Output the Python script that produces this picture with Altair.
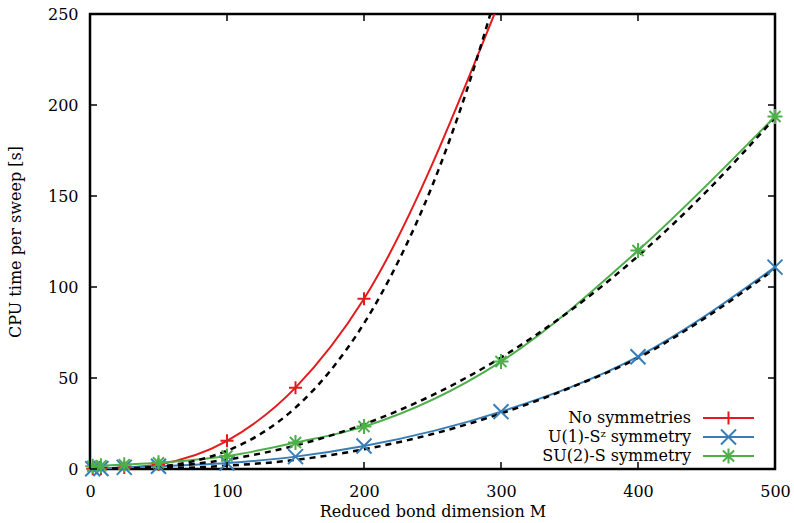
import altair as alt
import pandas as pd

# ---- series definitions -------------------------------------------------
SERIES = ["No symmetries", "U(1)-Sᶻ symmetry", "SU(2)-S symmetry"]
COLORS = ["#e41a1c", "#377eb8", "#4daf4a"]

# CPU time per sweep [s] versus reduced bond dimension M
m_none = [2, 8, 25, 50, 100, 150, 200, 300]
t_none = [0.1, 0.3, 0.8, 2.5, 15.5, 44.7, 93.5, 259.0]

m_sym = [2, 8, 25, 50, 100, 150, 200, 300, 400, 500]
t_u1 = [0.1, 0.3, 0.9, 1.5, 3.3, 6.8, 12.6, 31.5, 61.7, 110.9]
t_su2 = [1.5, 1.8, 2.4, 3.4, 7.1, 14.5, 23.3, 59.0, 120.0, 193.7]

# fitted scaling curves (dashed black)
m_fit_none = [0, 25, 50, 75, 100, 125, 150, 175, 200, 225, 250, 275, 300]
fit_none = [0, 0.2, 1.3, 4.2, 10.0, 19.5, 33.7, 53.6, 80.0, 114.0, 156.0, 208.0, 270.0]

m_fit_sym = [0, 50, 100, 150, 200, 250, 300, 350, 400, 450, 500]
fit_u1 = [0, 0.3, 1.8, 5.0, 10.8, 19.2, 30.5, 44.5, 61.0, 83.5, 110.0]
fit_su2 = [0, 1.1, 5.2, 12.9, 24.6, 40.6, 61.2, 86.7, 117.0, 152.5, 193.0]

x_ticks = [0, 100, 200, 300, 400, 500]
y_ticks = [0, 50, 100, 150, 200, 250]

# marker glyphs: plus, cross, asterisk
MARKERS = [
    "M-1,0L1,0M0,-1L0,1",
    "M-1.15,-1.15L1.15,1.15M-1.15,1.15L1.15,-1.15",
    "M-1.15,0L1.15,0M0,-1.15L0,1.15M-0.85,-0.85L0.85,0.85M-0.85,0.85L0.85,-0.85",
]

# ---- tables --------------------------------------------------------------
meas = pd.concat([
    pd.DataFrame({"M": m_none, "T": t_none, "series": SERIES[0]}),
    pd.DataFrame({"M": m_sym, "T": t_u1, "series": SERIES[1]}),
    pd.DataFrame({"M": m_sym, "T": t_su2, "series": SERIES[2]}),
], ignore_index=True)

fits = pd.concat([
    pd.DataFrame({"M": m_fit_none, "T": fit_none, "fit": "none"}),
    pd.DataFrame({"M": m_fit_sym, "T": fit_u1, "fit": "u1"}),
    pd.DataFrame({"M": m_fit_sym, "T": fit_su2, "fit": "su2"}),
], ignore_index=True)

legend_rows = pd.DataFrame({"series": SERIES})
xt = pd.DataFrame({"M": x_ticks})
yt = pd.DataFrame({"T": y_ticks})

W, H = 685, 455
FONT = "DejaVu Serif"
FS = 16
MS = 170  # marker size

color = alt.Color("series:N", scale=alt.Scale(domain=SERIES, range=COLORS), legend=None)
shape = alt.Shape("series:N", scale=alt.Scale(domain=SERIES, range=MARKERS), legend=None)

x_axis = alt.Axis(values=x_ticks, title="Reduced bond dimension M",
                  ticks=False, domain=False, grid=False, labelFlush=False,
                  labelPadding=14, titlePadding=4)
y_axis = alt.Axis(values=y_ticks, title="CPU time per sweep [s]",
                  ticks=False, domain=False, grid=False, labelFlush=False,
                  labelPadding=12, titlePadding=24)
x_scale = alt.Scale(domain=[0, 500], nice=False, zero=False)
y_scale = alt.Scale(domain=[0, 250], nice=False)

x_enc = alt.X("M:Q", scale=x_scale, axis=x_axis)
y_enc = alt.Y("T:Q", scale=y_scale, axis=y_axis)

lines = alt.Chart(meas).mark_line(strokeWidth=2, interpolate="monotone", clip=True).encode(
    x=x_enc, y=y_enc, color=color
)

dashed = alt.Chart(fits).mark_line(
    color="black", strokeWidth=2.5, strokeDash=[6, 5], interpolate="monotone", clip=True
).encode(x=x_enc, y=y_enc, detail="fit:N")

points = alt.Chart(meas).transform_filter("datum.T <= 250").mark_point(
    filled=False, size=MS, strokeWidth=2, opacity=1
).encode(x=x_enc, y=y_enc, color=color, shape=shape)

# inward tick marks on all four sides of the frame
TL = 7
tick_x_bottom = alt.Chart(xt).mark_rule(color="black", strokeWidth=1.5).encode(
    x=x_enc, y=alt.value(H), y2=alt.value(H - TL))
tick_x_top = alt.Chart(xt).mark_rule(color="black", strokeWidth=1.5).encode(
    x=x_enc, y=alt.value(0), y2=alt.value(TL))
tick_y_left = alt.Chart(yt).mark_rule(color="black", strokeWidth=1.5).encode(
    y=y_enc, x=alt.value(0), x2=alt.value(TL))
tick_y_right = alt.Chart(yt).mark_rule(color="black", strokeWidth=1.5).encode(
    y=y_enc, x=alt.value(W), x2=alt.value(W - TL))

# key in the lower right corner: label, line sample and marker per row
key_layers = []
for i, name in enumerate(SERIES):
    row = alt.Chart(legend_rows).transform_filter(alt.datum.series == name)
    ky = alt.value(404 + 19 * i)
    key_layers.append(row.mark_rule(strokeWidth=2).encode(
        x=alt.value(613), x2=alt.value(664), y=ky, color=color))
    key_layers.append(row.mark_point(filled=False, size=MS, strokeWidth=2, opacity=1).encode(
        x=alt.value(638.5), y=ky, color=color, shape=shape))
    key_layers.append(row.mark_text(align="right", baseline="middle", font=FONT, fontSize=FS,
                                    color="black").encode(x=alt.value(601), y=ky, text="series:N"))

chart = alt.layer(
    lines, dashed, points,
    tick_x_bottom, tick_x_top, tick_y_left, tick_y_right,
    *key_layers,
).properties(
    width=W, height=H,
    autosize=alt.AutoSizeParams(type="none"),
    padding={"left": 90, "top": 14, "right": 19, "bottom": 54},
).configure(
    font=FONT,
).configure_view(
    stroke="black", strokeWidth=2.5,
).configure_axis(
    labelFont=FONT, titleFont=FONT, labelFontSize=FS, titleFontSize=FS,
    labelColor="black", titleColor="black", titleFontWeight="normal",
)

chart.save("out.html", embed_options={"renderer": "svg", "actions": False})
